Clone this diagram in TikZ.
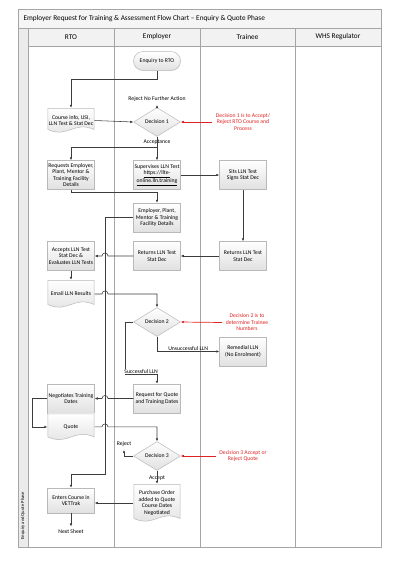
\documentclass[tikz,border=0pt]{standalone}
\usepackage{fontspec}
\setmainfont{Carlito}
\usetikzlibrary{positioning,arrows.meta,shapes.geometric,shadows,calc}
\definecolor{colorline}{RGB}{60,60,60}
\definecolor{colorlane}{RGB}{165,165,165}
\definecolor{colorbox}{RGB}{185,185,185}
\definecolor{colornote}{RGB}{222,35,35}
\newcommand{\boxfont}{\fontsize{5.7}{6.5}\selectfont}
\newcommand{\headfont}{\fontsize{7.3}{8.5}\selectfont}

\begin{document}
\begin{tikzpicture}[
    x=1pt, y=-1pt,
    font=\boxfont,
    >={Latex[length=3pt,width=2.6pt]},
    shadebox/.style={top color=white, bottom color=black!12, draw=colorbox, line width=0.5pt},
    proc/.style={shadebox, rectangle, minimum width=47pt, minimum height=29pt, inner sep=1pt, align=center,
        drop shadow={opacity=0.1, shadow xshift=0.5pt, shadow yshift=-0.6pt}},
    start/.style={proc, rounded corners=9.5pt, minimum height=19pt},
    decision/.style={shadebox, diamond, aspect=1.62, minimum width=47pt, minimum height=29pt, inner sep=0pt, align=center},
    doc/.style={rectangle, minimum width=47pt, inner sep=1pt, align=center, fill=white,
        path picture={
            \shade[shadebox]
                ([shift={(0.3pt,-0.3pt)}]path picture bounding box.north west) --
                ([shift={(-0.3pt,-0.3pt)}]path picture bounding box.north east) --
                ([shift={(-0.3pt,3.5pt)}]path picture bounding box.south east) .. controls
                ([shift={(-21pt,12.5pt)}]path picture bounding box.south east) and
                ([shift={(21pt,-5.5pt)}]path picture bounding box.south west) ..
                ([shift={(0.3pt,3.5pt)}]path picture bounding box.south west) -- cycle;
        }},
    flow/.style={->, draw=colorline, line width=0.55pt},
    note/.style={text=colornote, align=center},
    noteflow/.style={->, draw=colornote, line width=0.7pt},
    lane/.style={draw=colorlane, line width=0.9pt},
]
    \useasboundingbox (0,0) rectangle (400,566);

    % Frame and lanes
    \draw[lane, fill=black!4] (18,9) rectangle (381,28);
    \draw[lane, fill=black!5] (28,28) rectangle (381,46);
    \draw[lane, fill=black!8] (18,28) rectangle (28,547);
    \foreach \x in {114,200,295}
        \draw[lane] (\x,28) -- (\x,547);
    \draw[lane] (18,9) rectangle (381,547);

    \node[font=\headfont, anchor=west] (title) at (20,18.5) {Employer Request for Training \& Assessment Flow Chart – Enquiry \& Quote Phase};
    \node[font=\headfont] (hrto)     at (71,37)  {RTO};
    \node[font=\headfont] (hemp)     at (157,37) {Employer};
    \node[font=\headfont] (htrainee) at (247.5,37) {Trainee};
    \node[font=\headfont] (hwhs)     at (338,37) {WHS Regulator};
    \node[font=\fontsize{4.6}{5}\selectfont, rotate=90, anchor=west] (phase) at (23,543) {Enquiry and Quote Phase};

    % Steps
    \node[start] (enq) at (157,61) {Enquiry to RTO};
    \node[doc, minimum height=25pt] (course) at (71,120.5) {Course info, USI,\\LLN Test \& Stat Dec};
    \node[decision] (d1) at (157,122) {Decision 1};
    \node (rej1) at (157,99) {Reject No Further Action};
    \node (acc1) at (157,142) {Acceptance};
    \coordinate (split1) at (157,147);

    \node[proc] (req) at (71,175) {Requests Employer,\\Plant, Mentor \&\\Training Facility\\Details};
    \node[proc] (sup) at (157,175) {Supervises LLN Test\\\underline{https://llte-}\\\underline{online.lln.training}};
    \node[proc] (sits) at (243,175) {Sits LLN Test\\Signs Stat Dec};
    \node[proc] (fac) at (157,217.5) {Employer, Plant,\\Mentor \& Training\\Facility Details};

    \node[proc] (acc) at (71,256) {Accepts LLN Test\\Stat Dec \&\\Evaluates LLN Tests};
    \node[proc] (rete) at (157,256) {Returns LLN Test\\Stat Dec};
    \node[proc] (rett) at (243,256) {Returns LLN Test\\Stat Dec};

    \node[doc, minimum height=28pt] (email) at (71,294) {Email LLN Results};
    \node[decision] (d2) at (157,322) {Decision 2};
    \node[proc] (rem) at (243,351.5) {Remedial LLN\\(No Enrolment)};

    \node[proc] (neg) at (71,398.5) {Negotiates Training\\Dates};
    \node[doc, minimum height=27pt, below=0pt of neg] (quote) {Quote};
    \node[proc] (rq) at (157,398.5) {Request for Quote\\and Training Dates};
    \node[decision] (d3) at (157,456) {Decision 3};
    \node (rej3) at (124,444) {Reject};
    \node[fill=white, inner sep=0.6pt] (acc3) at (157,478) {Accept};
    \node[doc, minimum height=38pt] (po) at (157,503) {Purchase Order\\added to Quote\\Course Dates\\Negotiated};
    \node[proc, minimum height=25pt] (enter) at (71,500.5) {Enters Course in\\VETTrak};
    \node (next) at (71,532) {Next Sheet};

    % Notes
    \node[note] (note1) at (243,122) {Decision 1 is to Accept/\\Reject RTO Course and\\Process};
    \node[note] (note2) at (247,322.5) {Decision 2 is to\\determine Trainee\\Numbers};
    \node[note] (note3) at (243,456) {Decision 3 Accept or\\Reject Quote};

    % Connectors
    \coordinate (hopr) at (108,0);
    \coordinate (hopl) at (102,0);
    \coordinate (bus) at (105,474);

    \draw[flow] (enq.south) -- ++(0,9) -| (course.north);
    \draw[flow] (course.east) -- (d1.west);
    \draw[flow] (d1.north) -- (rej1.south);
    \draw[flow] (d1.south) -- (sup.north);
    \draw[flow] (split1) -| (req.north);
    \draw[flow] (sup.east) -- (sits.west);
    \draw[flow] (req.south) -- ++(0,3) -| (fac.north);
    \draw[flow] (sits.south) -- (rett.north);
    \draw[flow] (rett.west) -- (rete.east);
    \draw[flow] (rete.west) -- (rete.west -| hopr)
        .. controls ($(rete.west -| hopr)+(0,-4)$) and ($(rete.west -| hopl)+(0,-4)$) .. (rete.west -| hopl) -- (acc.east);
    \draw[flow] (acc.south) -- (email.north);
    \draw[flow] (email.east) -- (email.east -| hopl)
        .. controls ($(email.east -| hopl)+(0,-4)$) and ($(email.east -| hopr)+(0,-4)$) .. (email.east -| hopr) -| (d2.north);
    \draw[flow] (fac.west) -| (bus) -| (enter.north);
    \draw[flow] (d2.south) |- (rem.west) node[pos=0.75, above, inner sep=1pt] (unsucc) {Unsuccessful LLN};
    \draw[flow] (d2.west) -- ++(-8,0) |- ([yshift=9pt]rq.north)
        node[pos=0.75, above, fill=white, inner sep=0.6pt] (succ) {Successful LLN} -- (rq.north);
    \draw[flow] (rq.west) -- (rq.west -| hopr)
        .. controls ($(rq.west -| hopr)+(0,-4)$) and ($(rq.west -| hopl)+(0,-4)$) .. (rq.west -| hopl) -- (neg.east);
    \draw[flow] (neg.west) -- ++(-15,0) |- (quote.west);
    \draw[flow] (quote.east) -- (quote.east -| hopl)
        .. controls ($(quote.east -| hopl)+(0,-4)$) and ($(quote.east -| hopr)+(0,-4)$) .. (quote.east -| hopr) -| (d3.north);
    \draw[flow] (d3.west) -| (rej3.south);
    \draw[flow] (d3.south) -- (po.north);
    \draw[flow] (po.west) -- (po.west -| enter.east);
    \draw[flow] (enter.south) -- (next.north);

    \draw[noteflow] (note1.west) -- (d1.east);
    \draw[noteflow] (note2.west) -- (d2.east);
    \draw[noteflow] (note3.west) -- (d3.east);

\end{tikzpicture}
\end{document}
